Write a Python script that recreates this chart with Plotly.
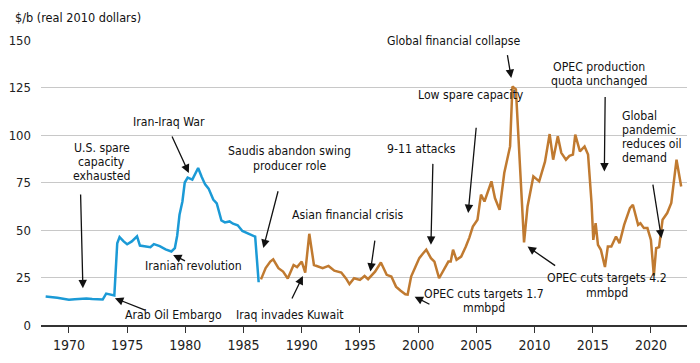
import plotly.graph_objects as go

# Blue series: pre-1986 (decimal year, $/b real 2010)
blue_year = [1968.0, 1968.5, 1969.0, 1969.5, 1970.0, 1970.5, 1971.0, 1971.5, 1972.0, 1972.5,
             1972.9, 1973.2, 1973.6, 1973.9, 1974.15, 1974.35, 1974.7, 1975.0, 1975.4, 1975.85,
             1976.1, 1976.6, 1977.0, 1977.3, 1977.8, 1978.3, 1978.8, 1979.1, 1979.3, 1979.5,
             1979.75, 1979.95, 1980.2, 1980.6, 1980.85, 1981.1, 1981.4, 1981.7, 1982.0, 1982.4,
             1982.7, 1983.1, 1983.4, 1983.8, 1984.1, 1984.5, 1984.9, 1985.3, 1985.7, 1986.0, 1986.3]
blue_val = [15.0, 14.8, 14.3, 13.8, 13.3, 13.6, 13.8, 14.0, 13.7, 13.5,
            13.4, 16.5, 16.0, 15.6, 43.0, 46.3, 44.0, 42.5, 44.0, 46.7,
            41.8, 41.3, 40.9, 42.6, 41.5, 39.8, 38.7, 40.5, 47.0, 58.0,
            65.0, 75.0, 77.6, 76.5, 79.5, 82.6, 78.0, 74.0, 71.8, 66.0,
            64.0, 55.0, 54.0, 54.5, 53.3, 52.5, 49.5, 48.5, 47.5, 46.5, 22.5]

# Orange series: 1986 onward
orange_year = [1986.5, 1986.9, 1987.3, 1987.55, 1988.0, 1988.4, 1988.8, 1989.3, 1989.6, 1990.0,
               1990.3, 1990.65, 1991.05, 1991.5, 1991.8, 1992.3, 1992.8, 1993.4, 1993.8, 1994.1,
               1994.5, 1995.0, 1995.4, 1995.7, 1996.3, 1996.8, 1997.3, 1997.7, 1998.1, 1998.5,
               1998.9, 1999.1, 1999.4, 1999.8, 2000.1, 2000.4, 2000.7, 2001.1, 2001.4, 2001.8,
               2002.1, 2002.6, 2002.8, 2003.0, 2003.3, 2003.7, 2004.1, 2004.4, 2004.7, 2005.1,
               2005.4, 2005.7, 2006.3, 2006.6, 2007.0, 2007.4, 2007.9, 2008.1, 2008.4, 2008.65,
               2009.1, 2009.4, 2009.9, 2010.4, 2010.9, 2011.3, 2011.6, 2012.0, 2012.3, 2012.7,
               2013.0, 2013.3, 2013.5, 2013.9, 2014.3, 2014.6, 2014.9, 2015.05, 2015.25, 2015.45,
               2015.7, 2016.05, 2016.3, 2016.6, 2017.0, 2017.3, 2017.7, 2018.2, 2018.45, 2018.9,
               2019.1, 2019.4, 2019.7, 2020.0, 2020.25, 2020.45, 2020.7, 2021.0, 2021.4, 2021.75,
               2022.2, 2022.6]
orange_val = [24.0, 30.0, 33.4, 34.6, 29.9, 28.1, 24.5, 31.6, 30.5, 33.4,
              27.6, 48.0, 31.6, 30.5, 29.9, 31.1, 28.6, 27.6, 24.5, 21.5,
              24.6, 23.7, 25.8, 24.1, 28.1, 32.9, 26.4, 25.5, 20.2, 18.0,
              16.2, 16.0, 25.5, 31.0, 35.2, 37.5, 39.6, 35.2, 33.4, 24.6,
              28.1, 33.4, 33.4, 39.6, 34.3, 36.0, 41.3, 46.0, 51.8, 55.4,
              68.6, 65.0, 75.6, 66.8, 60.6, 80.0, 94.0, 125.5, 124.0, 97.6,
              43.5, 62.4, 78.2, 75.6, 86.0, 100.5, 87.0, 99.3, 90.6, 87.0,
              89.0, 89.7, 100.2, 91.4, 94.0, 89.7, 64.2, 44.8, 53.6, 42.2,
              39.6, 30.5, 41.3, 41.3, 46.6, 43.1, 52.7, 61.5, 63.3, 52.7,
              53.6, 51.0, 51.0, 44.8, 26.0, 40.4, 41.0, 55.4, 58.9, 64.2,
              87.0, 72.9]

x_ticks = [1970, 1975, 1980, 1985, 1990, 1995, 2000, 2005, 2010, 2015, 2020]
y_ticks = [0, 25, 50, 75, 100, 125, 150]

# Event labels: (lines, x, first-line y, anchor)
labels = [
    (["U.S. spare", "capacity", "exhausted"], 1972.83, 93.4, "center"),
    (["Arab Oil Embargo"], 1979.02, 5.3, "center"),
    (["Iranian revolution"], 1980.69, 31.1, "center"),
    (["Iran-Iraq War"], 1978.59, 106.7, "center"),
    (["Saudis abandon swing", "producer role"], 1988.98, 91.4, "center"),
    (["Asian financial crisis"], 1994.0, 58.0, "center"),
    (["Iraq invades Kuwait"], 1989.02, 5.3, "center"),
    (["9-11 attacks"], 2000.27, 92.7, "center"),
    (["Low spare capacity"], 2004.58, 121.3, "center"),
    (["Global financial collapse"], 2003.04, 149.4, "center"),
    (["OPEC production", "quota unchanged"], 2015.54, 135.7, "center"),
    (["Global", "pandemic", "reduces oil", "demand"], 2017.38, 110.2, "left"),
    (["OPEC cuts targets 1.7", "mmbpd"], 2005.68, 16.2, "center"),
    (["OPEC cuts targets 4.2", "mmbpd"], 2016.2, 24.6, "center"),
]

# Arrows: (tail_x, tail_y, head_x, head_y)
arrows = [
    (1971.0, 69.5, 1971.2, 19.3),
    (1976.67, 7.5, 1973.95, 14.1),
    (1980.1, 33.4, 1978.95, 36.9),
    (1978.8, 100.0, 1980.3, 80.0),
    (1988.0, 71.2, 1986.7, 40.5),
    (1989.1, 13.2, 1990.1, 25.8),
    (1996.3, 45.2, 1995.9, 28.1),
    (2001.27, 85.6, 2001.1, 42.2),
    (2005.0, 104.6, 2004.3, 58.9),
    (2001.1, 10.5, 1999.7, 14.9),
    (2007.65, 142.8, 2008.0, 130.0),
    (2016.07, 120.8, 2016.0, 80.8),
    (2011.9, 30.7, 2009.4, 41.3),
    (2020.15, 74.7, 2020.9, 45.7),
]

FONT = "Liberation Sans Narrow, Arial Narrow, DejaVu Sans Condensed, sans-serif"
LINE_STEP = 7.5  # data units between label lines

fig = go.Figure()
fig.add_trace(go.Scatter(x=blue_year, y=blue_val, mode="lines",
                         line=dict(color="#1b9ad6", width=2.5), hoverinfo="skip"))
fig.add_trace(go.Scatter(x=orange_year, y=orange_val, mode="lines",
                         line=dict(color="#c07a30", width=2.5), hoverinfo="skip"))

ann = []
for lines, lx, ly, anchor in labels:
    for i, t in enumerate(lines):
        ann.append(dict(x=lx, y=ly - i * LINE_STEP, xref="x", yref="y", text=t,
                        showarrow=False, xanchor=anchor, yanchor="middle",
                        font=dict(family=FONT, size=12.2, color="#111111")))
for tx, ty, hx, hy in arrows:
    ann.append(dict(x=hx, y=hy, ax=tx, ay=ty, xref="x", yref="y", axref="x", ayref="y",
                    text="", showarrow=True, arrowhead=2, arrowsize=1.3, arrowwidth=1.3,
                    arrowcolor="#111111", standoff=0, startstandoff=0))
ann.append(dict(x=-0.0438, y=1.078, xref="paper", yref="paper", text="$/b (real 2010 dollars)",
                showarrow=False, xanchor="left", yanchor="middle",
                font=dict(family=FONT, size=12.6, color="#111111")))

fig.update_layout(
    width=692, height=355,
    margin=dict(l=33, r=13, t=32, b=38, autoexpand=False),
    paper_bgcolor="white", plot_bgcolor="white",
    showlegend=False,
    font=dict(family=FONT, size=14, color="#222222"),
    annotations=ann,
    xaxis=dict(range=[1967.6, 2023.1], tickvals=x_ticks, ticks="outside", ticklen=6,
               tickcolor="#333333", tickwidth=1.3, showgrid=False, showline=True,
               linecolor="#333333", linewidth=1.8, zeroline=False, automargin=False,
               tickfont=dict(family=FONT, size=14, color="#222222")),
    yaxis=dict(range=[0, 150], tickvals=y_ticks, showgrid=True, gridcolor="#c8c8c8",
               gridwidth=1, zeroline=False, showline=False, ticks="", automargin=False,
               ticklabelstandoff=9,
               tickfont=dict(family=FONT, size=13, color="#222222")),
)

fig.write_html("out.html")
